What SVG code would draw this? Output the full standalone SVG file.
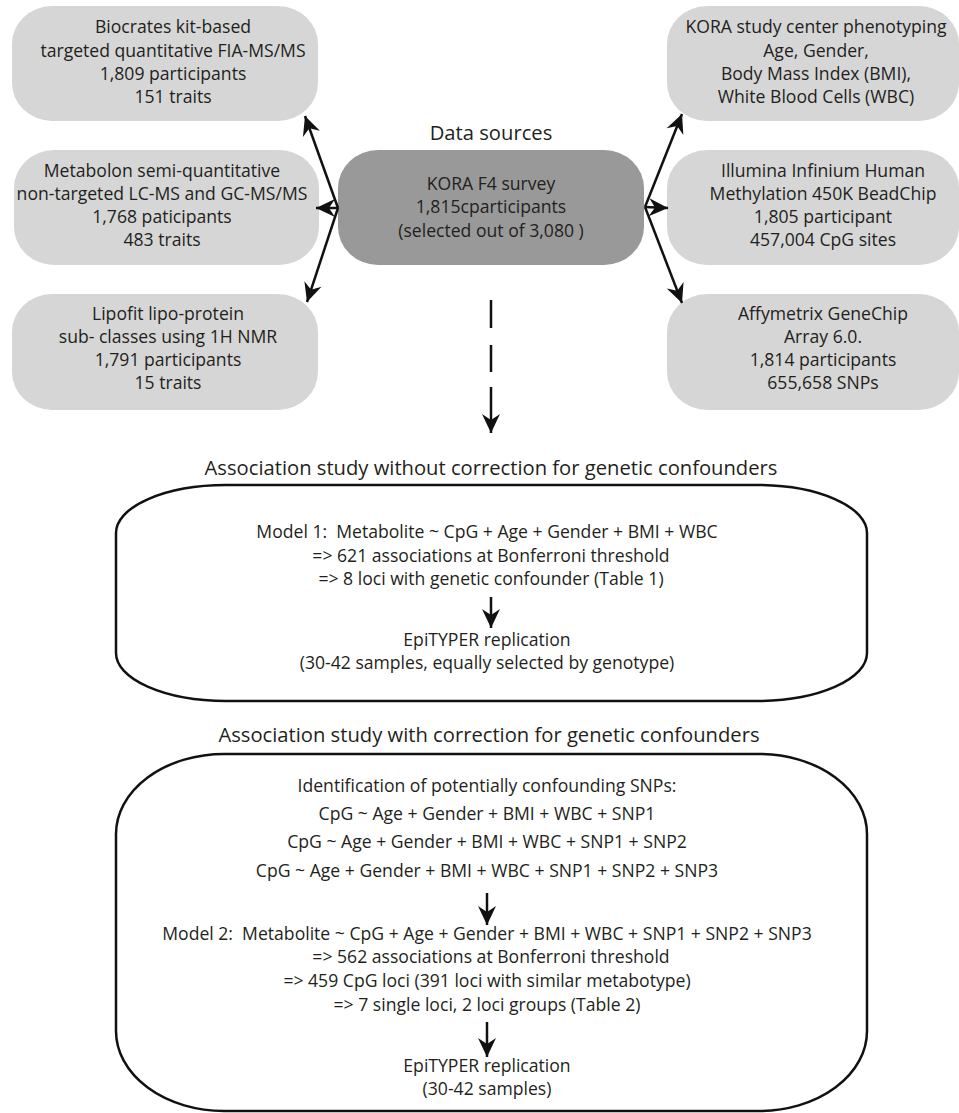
<svg xmlns="http://www.w3.org/2000/svg" width="959" height="1113" viewBox="0 0 959 1113">
<style>
text{font-family:"Open Sans","Noto Sans","Liberation Sans",sans-serif;font-size:17.6px;fill:#231f20;text-anchor:middle}
.src{fill:#d6d6d6}
.main{fill:#999999}
.frame{fill:#ffffff;stroke:#111;stroke-width:2.5}
.h{font-size:20.2px}
.ln{stroke:#111;stroke-width:2.5;fill:none}
</style>
<defs>
<marker id="ah" markerWidth="22" markerHeight="22" viewBox="-20 -11 22 22" refX="0" refY="0" orient="auto" markerUnits="userSpaceOnUse">
<path d="M0,0 L-19,-9 L-13,0 L-19,9 Z" fill="#111"/>
</marker>
</defs>
<rect width="959" height="1113" fill="#fff"/>

<g id="biocrates">
<rect class="src" x="12" y="6" width="306" height="115" rx="40" ry="38"/>
<text x="173" y="33">Biocrates kit-based</text>
<text x="173" y="57">targeted quantitative FIA-MS/MS</text>
<text x="173" y="80">1,809 participants</text>
<text x="173" y="103">151 traits</text>
</g>
<g id="metabolon">
<rect class="src" x="14" y="150" width="305" height="115" rx="40" ry="38"/>
<text x="162" y="177">Metabolon semi-quantitative</text>
<text x="162" y="200">non-targeted LC-MS and GC-MS/MS</text>
<text x="162" y="223">1,768 paticipants</text>
<text x="162" y="246">483 traits</text>
</g>
<g id="lipofit">
<rect class="src" x="12" y="294" width="306" height="116" rx="40" ry="38"/>
<text x="168" y="320">Lipofit lipo-protein</text>
<text x="168" y="343">sub- classes using 1H NMR</text>
<text x="168" y="366">1,791 participants</text>
<text x="168" y="389">15 traits</text>
</g>
<g id="kora">
<text class="h" x="491" y="140">Data sources</text>
<rect class="main" x="338" y="150" width="306" height="115" rx="40" ry="38"/>
<text x="491" y="190">KORA F4 survey</text>
<text x="491" y="213">1,815cparticipants</text>
<text x="491" y="237">(selected out of 3,080 )</text>
</g>
<g id="phenotyping">
<rect class="src" x="667" y="6" width="292" height="115" rx="40" ry="38"/>
<text x="816" y="33">KORA study center phenotyping</text>
<text x="816" y="57">Age, Gender,</text>
<text x="816" y="80">Body Mass Index (BMI),</text>
<text x="816" y="103">White Blood Cells (WBC)</text>
</g>
<g id="illumina">
<rect class="src" x="667" y="150" width="292" height="115" rx="40" ry="38"/>
<text x="823" y="177">Illumina Infinium Human</text>
<text x="823" y="200">Methylation 450K BeadChip</text>
<text x="823" y="223">1,805 participant</text>
<text x="823" y="246">457,004 CpG sites</text>
</g>
<g id="affymetrix">
<rect class="src" x="667" y="294" width="292" height="116" rx="40" ry="38"/>
<text x="823" y="320">Affymetrix GeneChip</text>
<text x="823" y="343">Array 6.0.</text>
<text x="823" y="366">1,814 participants</text>
<text x="823" y="389">655,658 SNPs</text>
</g>

<g id="model1">
<text class="h" x="491" y="475">Association study without correction for genetic confounders</text>
<rect class="frame" x="116" y="485" width="751" height="216" rx="110" ry="48"/>
<text x="487" y="538">Model 1:&#160; Metabolite ~ CpG + Age + Gender + BMI + WBC</text>
<text x="491" y="562">=&gt; 621 associations at Bonferroni threshold</text>
<text x="491" y="585">=&gt; 8 loci with genetic confounder (Table 1)</text>
<text x="487" y="646">EpiTYPER replication</text>
<text x="487" y="669">(30-42 samples, equally selected by genotype)</text>
</g>

<g id="model2">
<text class="h" x="489" y="742">Association study with correction for genetic confounders</text>
<rect class="frame" x="116" y="754" width="751" height="357" rx="108" ry="80"/>
<text x="487" y="792">Identification of potentially confounding SNPs:</text>
<text x="487" y="820">CpG ~ Age + Gender + BMI + WBC + SNP1</text>
<text x="487" y="848">CpG ~ Age + Gender + BMI + WBC + SNP1 + SNP2</text>
<text x="487" y="877">CpG ~ Age + Gender + BMI + WBC + SNP1 + SNP2 + SNP3</text>
<text x="487" y="940">Model 2:&#160; Metabolite ~ CpG + Age + Gender + BMI + WBC + SNP1 + SNP2 + SNP3</text>
<text x="491" y="963">=&gt; 562 associations at Bonferroni threshold</text>
<text x="487" y="987">=&gt; 459 CpG loci (391 loci with similar metabotype)</text>
<text x="487" y="1011">=&gt; 7 single loci, 2 loci groups (Table 2)</text>
<text x="487" y="1072">EpiTYPER replication</text>
<text x="487" y="1095">(30-42 samples)</text>
</g>

<g id="connectors" class="ln">
<line x1="338" y1="208" x2="305" y2="116" marker-end="url(#ah)"/>
<line x1="338" y1="208" x2="316" y2="208" marker-end="url(#ah)"/>
<line x1="338" y1="208" x2="307" y2="302" marker-end="url(#ah)"/>
<line x1="645" y1="207" x2="682" y2="114" marker-end="url(#ah)"/>
<line x1="645" y1="207" x2="668" y2="208" marker-end="url(#ah)"/>
<line x1="645" y1="207" x2="682" y2="303" marker-end="url(#ah)"/>
<line x1="491" y1="300" x2="491" y2="328"/>
<line x1="491" y1="345" x2="491" y2="372"/>
<line x1="491" y1="387" x2="491" y2="433" marker-end="url(#ah)"/>
<line x1="491" y1="597" x2="491" y2="628" marker-end="url(#ah)"/>
<line x1="487" y1="893" x2="487" y2="925" marker-end="url(#ah)"/>
<line x1="487" y1="1022" x2="487" y2="1057" marker-end="url(#ah)"/>
</g>
</svg>
